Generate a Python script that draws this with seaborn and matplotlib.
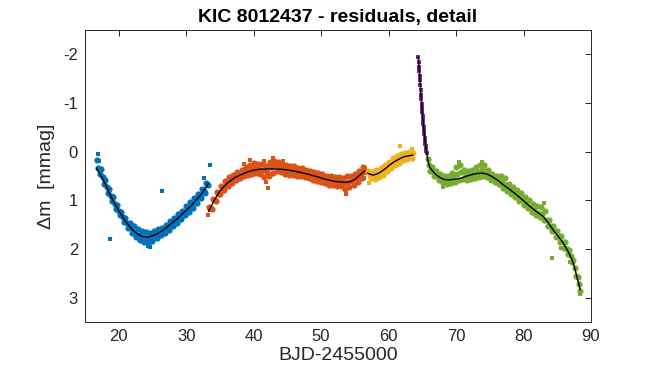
import matplotlib
matplotlib.use("Agg")
import matplotlib.pyplot as plt
import seaborn as sns

# ---------------- data ----------------
title_text = "KIC 8012437 - residuals, detail"
x_label = "BJD-2455000"
y_label = "\u0394m  [mmag]"
x_ticks = [20, 30, 40, 50, 60, 70, 80, 90]
y_ticks = [-2, -1, 0, 1, 2, 3]

# blue segment (scatter band)
blue_x = [16.8, 17.0, 17.2, 17.4, 17.6, 17.8, 18.0, 18.2, 18.4, 18.6, 18.8, 19.0, 19.2, 19.4, 19.6, 19.8,
          20.0, 20.2, 20.4, 20.6, 20.8, 21.0, 21.2, 21.4, 21.6, 21.8, 22.0, 22.2, 22.4, 22.6, 22.8,
          23.0, 23.2, 23.4, 23.6, 23.8, 24.0, 24.2, 24.4, 24.6, 24.8, 25.0, 25.2, 25.4, 25.6, 25.8,
          26.0, 26.2, 26.4, 26.6, 26.8, 27.0, 27.2, 27.4, 27.6, 27.8, 28.0, 28.2, 28.4, 28.6, 28.8,
          29.0, 29.2, 29.4, 29.6, 29.8, 30.0, 30.2, 30.4, 30.6, 30.8, 31.0, 31.2, 31.4, 31.6, 31.8,
          32.0, 32.2, 32.4, 32.6, 32.8, 33.0, 33.2]
blue_y = [0.18, 0.33, 0.46, 0.36, 0.53, 0.66, 0.58, 0.73, 0.84, 0.77, 0.91, 1.02, 0.94, 1.07, 1.17, 1.10,
          1.21, 1.30, 1.23, 1.34, 1.44, 1.36, 1.47, 1.57, 1.47, 1.57, 1.68, 1.53, 1.65, 1.76, 1.59,
          1.72, 1.82, 1.63, 1.75, 1.86, 1.65, 1.77, 1.88, 1.67, 1.76, 1.84, 1.63, 1.72, 1.78, 1.59,
          1.67, 1.72, 1.56, 1.62, 1.67, 1.50, 1.56, 1.60, 1.43, 1.48, 1.53, 1.36, 1.42, 1.46, 1.29,
          1.35, 1.39, 1.21, 1.27, 1.31, 1.12, 1.18, 1.23, 1.04, 1.11, 1.15, 0.95, 1.01, 1.05, 0.86,
          0.91, 0.95, 0.76, 0.81, 0.84, 0.65, 0.69]
blue_out_x = [16.9, 17.1, 18.7, 24.6, 26.4, 32.7, 33.5, 22.0, 24.3]
blue_out_y = [0.05, 0.20, 1.80, 1.96, 0.80, 0.55, 0.27, 1.50, 1.93]

# orange segment (scatter band)
orange_x = [33.4, 33.6, 33.8, 34.0, 34.2, 34.4, 34.6, 34.8, 35.0, 35.2, 35.4, 35.6, 35.8,
            36.0, 36.2, 36.4, 36.6, 36.8, 37.0, 37.2, 37.4, 37.6, 37.8, 38.0, 38.2, 38.4, 38.6, 38.8,
            39.0, 39.2, 39.4, 39.6, 39.8, 40.0, 40.2, 40.4, 40.6, 40.8, 41.0, 41.2, 41.4, 41.6, 41.8,
            42.0, 42.2, 42.4, 42.6, 42.8, 43.0, 43.2, 43.4, 43.6, 43.8, 44.0, 44.2, 44.4, 44.6, 44.8,
            45.0, 45.2, 45.4, 45.6, 45.8, 46.0, 46.2, 46.4, 46.6, 46.8, 47.0, 47.2, 47.4, 47.6, 47.8,
            48.0, 48.2, 48.4, 48.6, 48.8, 49.0, 49.2, 49.4, 49.6, 49.8, 50.0, 50.2, 50.4, 50.6, 50.8,
            51.0, 51.2, 51.4, 51.6, 51.8, 52.0, 52.2, 52.4, 52.6, 52.8, 53.0, 53.2, 53.4, 53.6, 53.8,
            54.0, 54.2, 54.4, 54.6, 54.8, 55.0, 55.2, 55.4, 55.6, 55.8, 56.0, 56.2, 56.4]
orange_y = [1.13, 1.15, 1.17, 0.98, 0.99, 1.01, 0.83, 0.86, 0.88, 0.70, 0.75, 0.79, 0.61,
            0.66, 0.71, 0.53, 0.59, 0.64, 0.47, 0.53, 0.59, 0.42, 0.49, 0.55, 0.37, 0.45, 0.51, 0.32,
            0.41, 0.48, 0.28, 0.37, 0.45, 0.24, 0.33, 0.43, 0.25, 0.35, 0.46, 0.26, 0.38, 0.52, 0.29,
            0.42, 0.51, 0.22, 0.32, 0.43, 0.19, 0.28, 0.40, 0.22, 0.32, 0.42, 0.27, 0.35, 0.45, 0.28,
            0.38, 0.47, 0.29, 0.39, 0.48, 0.30, 0.40, 0.50, 0.33, 0.42, 0.51, 0.34, 0.44, 0.53, 0.37,
            0.46, 0.55, 0.39, 0.48, 0.58, 0.41, 0.50, 0.60, 0.44, 0.53, 0.62, 0.46, 0.55, 0.65, 0.49,
            0.58, 0.68, 0.51, 0.60, 0.69, 0.52, 0.62, 0.70, 0.53, 0.63, 0.71, 0.54, 0.64, 0.76, 0.51,
            0.63, 0.73, 0.49, 0.60, 0.68, 0.45, 0.55, 0.62, 0.39, 0.48, 0.54, 0.32, 0.42]
orange_out_x = [42.1, 53.7, 39.5, 41.5, 56.5, 56.3, 41.9, 33.3, 42.9, 44.3, 38.6]
orange_out_y = [0.75, 0.86, 0.17, 0.20, 0.33, 0.55, 0.62, 1.30, 0.12, 0.19, 0.25]

# yellow segment (scatter band)
yellow_x = [57.0, 57.2, 57.4, 57.6, 57.8, 58.0, 58.2, 58.4, 58.6, 58.8, 59.0, 59.2, 59.4, 59.6, 59.8,
            60.0, 60.2, 60.4, 60.6, 60.8, 61.0, 61.2, 61.4, 61.6, 61.8, 62.0, 62.2, 62.4, 62.6, 62.8,
            63.0, 63.2, 63.4, 63.6]
yellow_y = [0.39, 0.47, 0.54, 0.41, 0.49, 0.57, 0.38, 0.46, 0.53, 0.34, 0.41, 0.47, 0.27, 0.34, 0.40,
            0.21, 0.28, 0.34, 0.14, 0.21, 0.28, 0.08, 0.16, 0.23, 0.04, 0.12, 0.18, 0.02, 0.09, 0.15,
            0.01, 0.08, 0.13, 0.02]
yellow_out_x = [61.7, 57.1, 63.5]
yellow_out_y = [-0.12, 0.64, -0.06]

# purple segment (scatter)
purple_x = [64.40, 64.45, 64.50, 64.55, 64.60, 64.65, 64.70, 64.75, 64.80, 64.85, 64.90, 64.95, 65.00,
            65.05, 65.10, 65.15, 65.20, 65.25, 65.30, 65.35, 65.40, 65.45, 65.50, 65.55, 65.60, 65.65]
purple_y = [-1.95, -1.85, -1.75, -1.66, -1.56, -1.47, -1.37, -1.27, -1.17, -1.08, -0.98, -0.89, -0.81,
            -0.73, -0.65, -0.57, -0.50, -0.43, -0.36, -0.28, -0.22, -0.16, -0.11, -0.06, -0.01, 0.03]

# green segment (scatter band)
green_x = [65.8, 66.0, 66.2, 66.4, 66.6, 66.8, 67.0, 67.2, 67.4, 67.6, 67.8, 68.0, 68.2, 68.4, 68.6, 68.8,
           69.0, 69.2, 69.4, 69.6, 69.8, 70.0, 70.2, 70.4, 70.6, 70.8, 71.0, 71.2, 71.4, 71.6, 71.8,
           72.0, 72.2, 72.4, 72.6, 72.8, 73.0, 73.2, 73.4, 73.6, 73.8, 74.0, 74.2, 74.4, 74.6, 74.8,
           75.0, 75.2, 75.4, 75.6, 75.8, 76.0, 76.2, 76.4, 76.6, 76.8, 77.0, 77.2, 77.4, 77.6, 77.8,
           78.0, 78.2, 78.4, 78.6, 78.8, 79.0, 79.2, 79.4, 79.6, 79.8, 80.0, 80.2, 80.4, 80.6, 80.8,
           81.0, 81.2, 81.4, 81.6, 81.8, 82.0, 82.2, 82.4, 82.6, 82.8, 83.0, 83.2, 83.4, 83.6, 83.8,
           84.0, 84.2, 84.4, 84.6, 84.8, 85.0, 85.2, 85.4, 85.6, 85.8, 86.0, 86.2, 86.4, 86.6, 86.8,
           87.0, 87.2, 87.4, 87.6, 87.8, 88.0, 88.2, 88.4]
green_y = [0.15, 0.27, 0.39, 0.31, 0.42, 0.51, 0.40, 0.50, 0.59, 0.46, 0.55, 0.64, 0.49, 0.58, 0.67, 0.50,
           0.57, 0.65, 0.44, 0.52, 0.62, 0.32, 0.45, 0.59, 0.27, 0.42, 0.57, 0.38, 0.48, 0.58, 0.40,
           0.48, 0.56, 0.37, 0.46, 0.54, 0.31, 0.42, 0.52, 0.27, 0.38, 0.50, 0.27, 0.40, 0.53, 0.38,
           0.49, 0.58, 0.45, 0.54, 0.62, 0.49, 0.58, 0.67, 0.50, 0.62, 0.74, 0.55, 0.69, 0.81, 0.66,
           0.77, 0.87, 0.72, 0.84, 0.94, 0.79, 0.90, 1.02, 0.85, 0.97, 1.09, 0.93, 1.05, 1.16, 1.00,
           1.13, 1.24, 1.07, 1.19, 1.30, 1.12, 1.25, 1.35, 1.13, 1.28, 1.40, 1.21, 1.40, 1.53, 1.40,
           1.52, 1.63, 1.52, 1.64, 1.75, 1.62, 1.74, 1.86, 1.73, 1.85, 1.97, 1.86, 1.99, 2.11, 2.02,
           2.15, 2.27, 2.23, 2.40, 2.55, 2.57, 2.72, 2.87]
green_out_x = [84.2, 88.3, 85.5, 70.5, 73.9, 83.0, 68.1, 86.9]
green_out_y = [2.19, 2.93, 1.98, 0.22, 0.22, 1.06, 0.72, 2.27]

# black fitted curves
blue_fit_x = [16.7, 17.0, 17.5, 18.0, 18.5, 19.0, 19.5, 20.0, 20.5, 21.0, 21.5, 22.0, 22.5, 23.0, 23.5,
              24.0, 24.5, 25.0, 25.5, 26.0, 26.5, 27.0, 27.5, 28.0, 28.5, 29.0, 29.5, 30.0, 30.5,
              31.0, 31.5, 32.0, 32.5, 33.0, 33.3]
blue_fit_y = [0.34, 0.41, 0.53, 0.66, 0.82, 0.96, 1.09, 1.21, 1.32, 1.43, 1.52, 1.60, 1.66, 1.71, 1.74,
              1.75, 1.75, 1.73, 1.70, 1.66, 1.62, 1.57, 1.51, 1.45, 1.40, 1.34, 1.27, 1.20, 1.14,
              1.07, 0.99, 0.91, 0.82, 0.72, 0.65]
orange_fit_x = [33.3, 33.6, 34.0, 34.5, 35.0, 35.5, 36.0, 36.5, 37.0, 38.0, 39.0, 40.0, 41.0, 42.0, 43.0,
                44.0, 45.0, 46.0, 47.0, 48.0, 49.0, 50.0, 51.0, 52.0, 53.0, 53.5, 54.0, 54.5, 55.0,
                55.5, 56.0, 56.5]
orange_fit_y = [1.23, 1.15, 1.04, 0.92, 0.81, 0.73, 0.66, 0.605, 0.55, 0.48, 0.42, 0.38, 0.36, 0.355, 0.355,
                0.36, 0.375, 0.40, 0.43, 0.46, 0.50, 0.54, 0.58, 0.61, 0.625, 0.63, 0.625, 0.605, 0.57,
                0.51, 0.45, 0.39]
yellow_fit_x = [56.9, 57.2, 57.6, 58.0, 58.4, 58.8, 59.2, 59.6, 60.0, 60.4, 60.8, 61.2, 61.6, 62.0, 62.4,
                62.8, 63.2, 63.6]
yellow_fit_y = [0.44, 0.46, 0.48, 0.47, 0.45, 0.42, 0.38, 0.34, 0.29, 0.25, 0.21, 0.18, 0.15, 0.12, 0.10,
                0.09, 0.08, 0.07]
purple_fit_x = purple_x
purple_fit_y = purple_y
green_fit_x = [65.65, 65.8, 65.9, 66.0, 66.2, 66.6, 67.0, 67.6, 68.2, 68.9, 69.6, 70.6, 71.4, 72.1, 73.0,
               73.8, 74.6, 75.3, 76.2, 77.0, 78.0, 79.0, 80.0, 81.0, 82.0, 82.9, 83.6, 84.4, 85.2,
               85.9, 86.6, 87.2, 87.6, 87.9, 88.2, 88.4]
green_fit_y = [0.03, 0.16, 0.23, 0.28, 0.34, 0.41, 0.47, 0.53, 0.57, 0.58, 0.57, 0.55, 0.51, 0.48, 0.45,
               0.44, 0.46, 0.51, 0.59, 0.68, 0.78, 0.89, 1.01, 1.13, 1.24, 1.33, 1.45, 1.61, 1.75,
               1.88, 2.05, 2.22, 2.40, 2.57, 2.72, 2.84]

# MATLAB default colour order
c_blue = (0.0, 0.447, 0.741)
c_orange = (0.850, 0.325, 0.098)
c_yellow = (0.929, 0.694, 0.125)
c_purple = (0.494, 0.184, 0.556)
c_green = (0.466, 0.674, 0.188)

# ---------------- plotting ----------------
sns.set_theme(style="white")
plt.rcParams['font.family'] = ['Liberation Sans', 'DejaVu Sans']
plt.rcParams['axes.unicode_minus'] = False

fig = plt.figure(figsize=(6.54, 3.76), dpi=100)
ax = fig.add_axes([85 / 654, 54 / 376, 506 / 654, 292 / 376])

bands = [
    (blue_x, blue_y, c_blue),
    (orange_x, orange_y, c_orange),
    (yellow_x, yellow_y, c_yellow),
    (green_x, green_y, c_green),
]
for xs, ys, col in bands:
    sns.scatterplot(x=xs, y=ys, color=col, s=20, marker='o', linewidth=0, ax=ax, legend=False)

singles = [
    (blue_out_x, blue_out_y, c_blue),
    (orange_out_x, orange_out_y, c_orange),
    (yellow_out_x, yellow_out_y, c_yellow),
    (green_out_x, green_out_y, c_green),
    (purple_x, purple_y, c_purple),
]
for xs, ys, col in singles:
    sns.scatterplot(x=xs, y=ys, color=col, s=5, marker='s', linewidth=0, ax=ax, legend=False)

fits = [
    (blue_fit_x, blue_fit_y),
    (orange_fit_x, orange_fit_y),
    (yellow_fit_x, yellow_fit_y),
    (purple_fit_x, purple_fit_y),
    (green_fit_x, green_fit_y),
]
for xs, ys in fits:
    sns.lineplot(x=xs, y=ys, color='black', linewidth=1.0, ax=ax, estimator=None, sort=False)

ax.set_xlim(15, 90)
ax.set_ylim(3.5, -2.5)
ax.set_xticks(x_ticks)
ax.set_yticks(y_ticks)
ax.set_xticklabels([str(t) for t in x_ticks])
ax.set_yticklabels([str(t) for t in y_ticks])

dark = '#262626'
for sp in ax.spines.values():
    sp.set_visible(True)
    sp.set_color(dark)
    sp.set_linewidth(0.7)
ax.tick_params(direction='in', length=4, width=0.7, top=True, right=True,
               labelsize=12, colors=dark, pad=5)
ax.set_xlabel(x_label, fontsize=14, color=dark, labelpad=2)
ax.set_ylabel(y_label, fontsize=14, color=dark, labelpad=6)
ax.set_title(title_text, fontsize=14, fontweight='bold', color='black', pad=6)
ax.grid(False)
ax.set_facecolor('white')

fig.savefig("out.png", dpi=100, facecolor='white')
